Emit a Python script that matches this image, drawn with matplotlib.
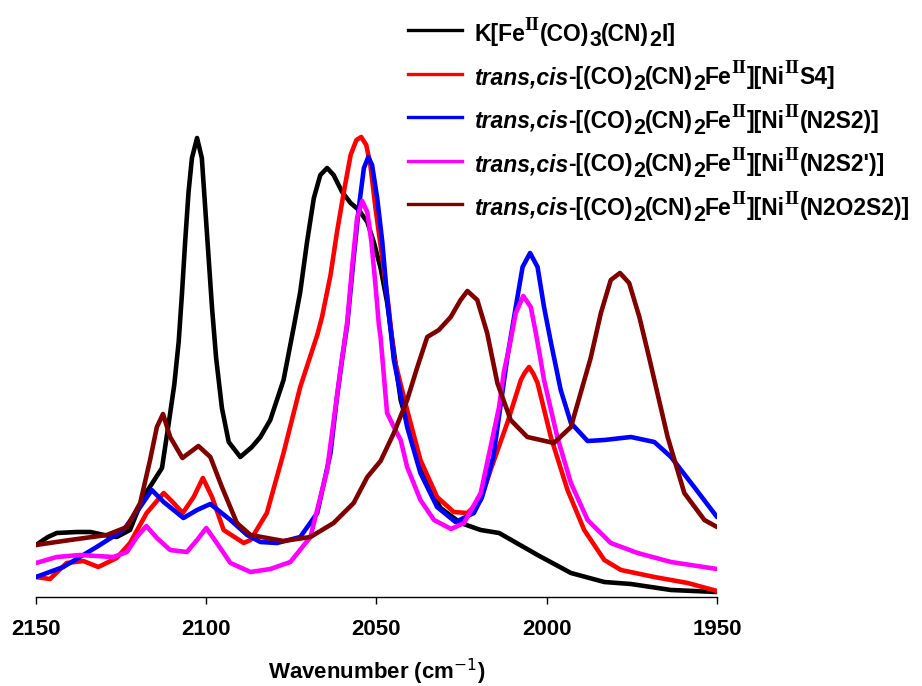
import matplotlib.pyplot as plt
from matplotlib.lines import Line2D

plt.rcParams['font.family'] = ['Liberation Sans', 'DejaVu Sans']
plt.rcParams['mathtext.fontset'] = 'custom'
plt.rcParams['mathtext.rm'] = 'Liberation Sans:bold'

# IR spectra: wavenumber (cm-1) and absorbance (arb. units)
wn_k = [2150, 2146.5, 2143.9, 2138, 2134, 2130, 2126.3, 2122.4, 2118.5, 2116,
        2113, 2111.1, 2109.4, 2108.1, 2107.1, 2106.2, 2105.2, 2104.2, 2102.7, 2101.3,
        2100.3, 2099.3, 2098.3, 2097.1, 2095.4, 2093.4, 2090, 2086.6, 2084.1, 2081.2,
        2077.3, 2074.3, 2072.4, 2070.4, 2068.4, 2066.5, 2064.5, 2062.6, 2060.1, 2057.6,
        2055.2, 2052.7, 2050.8, 2048.8, 2046.9, 2045.9, 2042.9, 2037.1, 2031.2, 2025.3,
        2019.4, 2014, 2002.7, 1992.9, 1983.1, 1975.3, 1963.5, 1950]
ab_k = [0.52, 0.60, 0.64, 0.65, 0.65, 0.62, 0.60, 0.67, 1.00, 1.13,
        1.29, 1.72, 2.12, 2.55, 3.05, 3.55, 4.05, 4.39, 4.59, 4.39,
        3.89, 3.39, 2.89, 2.39, 1.89, 1.55, 1.40, 1.50, 1.60, 1.77,
        2.17, 2.70, 3.05, 3.55, 3.99, 4.22, 4.29, 4.22, 4.05, 3.94,
        3.87, 3.75, 3.55, 3.29, 2.95, 2.70, 1.97, 1.27, 0.89, 0.74,
        0.67, 0.64, 0.42, 0.24, 0.15, 0.13, 0.07, 0.05]

wn_s4 = [2150, 2145.9, 2141, 2136.1, 2131.7, 2126.3, 2122.4, 2117.5, 2112.5, 2109.6,
         2106.9, 2103.7, 2101, 2098.3, 2094.9, 2089, 2087, 2082.2, 2077.3, 2072.4,
         2067.4, 2066, 2063.5, 2061.6, 2059.6, 2057.6, 2055.9, 2054.5, 2053, 2051.8,
         2050.3, 2048.3, 2046.4, 2044.9, 2041, 2037.1, 2032.2, 2027.3, 2023.3, 2019.4,
         2016.5, 2011.6, 2007.6, 2006.5, 2005.2, 2003.9, 2002.7, 1998.8, 1993.9, 1989,
         1983.1, 1978.2, 1968.4, 1958.6, 1950]
ab_s4 = [0.20, 0.18, 0.34, 0.36, 0.30, 0.39, 0.54, 0.84, 1.04, 0.94,
         0.84, 1.00, 1.19, 1.00, 0.67, 0.54, 0.57, 0.84, 1.44, 2.10,
         2.62, 2.80, 3.22, 3.65, 4.05, 4.42, 4.57, 4.60, 4.52, 4.32,
         3.89, 3.39, 2.89, 2.40, 1.87, 1.37, 1.00, 0.85, 0.84, 0.97,
         1.27, 1.74, 2.17, 2.24, 2.30, 2.23, 2.14, 1.60, 1.07, 0.67,
         0.37, 0.27, 0.20, 0.14, 0.06]

wn_n2s2 = [2150, 2142, 2132.2, 2124.3, 2119.4, 2116, 2112.5, 2106.7, 2102.7, 2098.8,
           2092.9, 2088, 2084.1, 2079.2, 2072.4, 2067.4, 2063.5, 2061.6, 2060, 2058.6,
           2056.7, 2055.2, 2053.7, 2052.4, 2051.3, 2049.8, 2048.3, 2046.9, 2044.9, 2041,
           2037.1, 2032.2, 2026.8, 2021.4, 2019, 2015.7, 2011.6, 2009.1, 2007.1, 2004.9,
           2002.7, 2000.8, 1998.8, 1995.9, 1992.9, 1988, 1983.1, 1975.3, 1968.4, 1963.5,
           1956.7, 1950]
ab_n2s2 = [0.20, 0.30, 0.50, 0.67, 0.90, 1.07, 0.95, 0.79, 0.87, 0.93,
           0.77, 0.62, 0.55, 0.54, 0.60, 0.84, 1.44, 2.00, 2.40, 2.72,
           3.39, 3.89, 4.29, 4.40, 4.32, 3.99, 3.55, 3.00, 2.37, 1.70,
           1.24, 0.90, 0.75, 0.84, 1.00, 1.40, 2.39, 2.90, 3.30, 3.44,
           3.30, 2.90, 2.55, 2.07, 1.74, 1.56, 1.57, 1.60, 1.55, 1.40,
           1.10, 0.80]

wn_n2s2p = [2150, 2143.9, 2137.1, 2127.3, 2123.3, 2120.4, 2117.6, 2114.5, 2110.6, 2105.7,
            2102.7, 2100, 2096.9, 2092.9, 2087, 2081.2, 2075.3, 2069.4, 2064.5, 2060.6,
            2058.6, 2057.1, 2055.7, 2054.2, 2052.7, 2051.5, 2050.3, 2049.3, 2048.8, 2046.9,
            2044.9, 2042.9, 2041, 2037.1, 2033.1, 2028.1, 2024.3, 2019.4, 2014, 2012.6,
            2011, 2009.1, 2006.9, 2004.7, 2003.2, 2001.9, 2000.8, 1996.9, 1992.9, 1988,
            1981.2, 1973.3, 1963.5, 1950]
ab_n2s2p = [0.34, 0.40, 0.42, 0.40, 0.45, 0.60, 0.71, 0.59, 0.47, 0.45,
            0.57, 0.69, 0.54, 0.34, 0.25, 0.28, 0.35, 0.60, 1.27, 2.27,
            2.75, 3.32, 3.79, 3.96, 3.85, 3.55, 3.12, 2.72, 2.60, 1.84,
            1.70, 1.57, 1.30, 0.97, 0.77, 0.68, 0.74, 1.04, 1.90, 2.25,
            2.50, 2.84, 3.01, 2.90, 2.64, 2.39, 2.17, 1.60, 1.14, 0.77,
            0.54, 0.44, 0.35, 0.28]

wn_n2o2s2 = [2150, 2140, 2129.2, 2123.3, 2119.4, 2116.5, 2114.5, 2112.7, 2110.6, 2107,
             2102.3, 2098.8, 2095.4, 2091, 2087, 2077.3, 2069.4, 2062.6, 2056.7, 2052.7,
             2048.8, 2044.9, 2041, 2038, 2035.1, 2031.7, 2028.2, 2025.3, 2023.3, 2020.4,
             2017.5, 2014.5, 2010.6, 2005.7, 1997.9, 1992.9, 1987.1, 1984.1, 1981.2, 1978.5,
             1975.8, 1972.8, 1969.9, 1964.5, 1959.6, 1953.7, 1950]
ab_n2o2s2 = [0.52, 0.57, 0.62, 0.70, 0.94, 1.37, 1.70, 1.83, 1.60, 1.39,
             1.51, 1.40, 1.10, 0.74, 0.62, 0.56, 0.60, 0.74, 0.94, 1.20,
             1.36, 1.64, 1.97, 2.30, 2.60, 2.67, 2.80, 2.97, 3.06, 2.97,
             2.64, 2.14, 1.77, 1.60, 1.54, 1.70, 2.39, 2.84, 3.17, 3.24,
             3.14, 2.80, 2.39, 1.60, 1.04, 0.77, 0.70]

# legend labels as (text, style) pieces: n normal, i italic, p superscript, b subscript
tc = ('trans,cis', 'i')
lab_k = [('K[Fe', 'n'), ('II', 'p'), ('(CO)', 'n'), ('3', 'b'), ('(CN)', 'n'), ('2', 'b'), ('I]', 'n')]
lab_pre = [tc, ('-[(CO)', 'n'), ('2', 'b'), ('(CN)', 'n'), ('2', 'b'), ('Fe', 'n'), ('II', 'p'),
           ('][Ni', 'n'), ('II', 'p')]
lab_s4 = lab_pre + [('S4]', 'n')]
lab_n2s2 = lab_pre + [('(N2S2)]', 'n')]
lab_n2s2p = lab_pre + [("(N2S2')]", 'n')]
lab_n2o2s2 = lab_pre + [('(N2O2S2)]', 'n')]

colors = ['black', '#ff0000', '#0000ff', '#ff00ff', '#800000']
series = [(wn_k, ab_k), (wn_s4, ab_s4), (wn_n2s2, ab_n2s2),
          (wn_n2s2p, ab_n2s2p), (wn_n2o2s2, ab_n2o2s2)]
labels = [lab_k, lab_s4, lab_n2s2, lab_n2s2p, lab_n2o2s2]

W, H = 922, 686
fig = plt.figure(figsize=(W / 100, H / 100), dpi=100)
ax = fig.add_axes([36 / W, 89 / H, 681 / W, 477 / H])

for (x, y), c in zip(series, colors):
    ax.plot(x, y, color=c, lw=3.3, solid_joinstyle='round', solid_capstyle='round')

ax.set_xlim(2150, 1950)
ax.set_ylim(0, 4.77)
ax.set_xticks([2150, 2100, 2050, 2000, 1950])
ax.tick_params(axis='x', direction='out', length=5, width=1, pad=11, labelsize=16)
for t in ax.get_xticklabels():
    t.set_fontweight('bold')
ax.set_yticks([])
for s in ['top', 'right', 'left']:
    ax.spines[s].set_visible(False)
ax.spines['bottom'].set_linewidth(1)
ax.set_xlabel(r'Wavenumber (cm$^{\mathsf{-1}}$)', fontsize=16, fontweight='bold', labelpad=12)

# hand-built legend so the super/subscripts keep their size
styles = {
    'n': dict(family='Liberation Sans', size=16.5, weight='bold', style='normal', dy=0),
    'i': dict(family='Liberation Sans', size=16.5, weight='bold', style='italic', dy=0),
    'p': dict(family='Liberation Serif', size=14, weight='bold', style='normal', dy=11),
    'b': dict(family='Liberation Sans', size=15.5, weight='bold', style='normal', dy=-6),
}
renderer = fig.canvas.get_renderer()
for i, (c, pieces) in enumerate(zip(colors, labels)):
    y_line = 30 + 43.6 * i
    fig.add_artist(Line2D([408 / W, 462 / W], [1 - y_line / H] * 2, color=c, lw=2.4,
                          transform=fig.transFigure))
    x = 474
    for txt, kind in pieces:
        st = styles[kind]
        t = fig.text(x / W, (H - y_line - 10.5 + st['dy']) / H, txt, ha='left', va='baseline',
                     family=st['family'], size=st['size'], weight=st['weight'], style=st['style'])
        x = t.get_window_extent(renderer).x1

fig.savefig('out.png', dpi=100)
